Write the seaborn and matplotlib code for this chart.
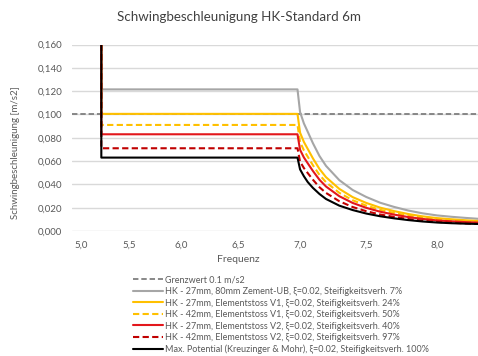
import numpy as np
import pandas as pd
import matplotlib
matplotlib.use("Agg")
import matplotlib.pyplot as plt
import seaborn as sns

sns.set_theme(style="white")
plt.rcParams["font.family"] = ["Lato", "DejaVu Sans"]

# Frequency grid [Hz]: start of the range (vertical drop), plateau end, then decay
freq = [5.22, 5.22, 6.98, 7.00, 7.03, 7.06, 7.10, 7.15, 7.20, 7.30, 7.40,
        7.50, 7.60, 7.70, 7.80, 7.90, 8.00, 8.10, 8.20, 8.30]

hk27_zement = [0.160, 0.1215, 0.1215, 0.1021, 0.0923, 0.0851, 0.0753, 0.0644, 0.0559,
               0.0437, 0.0352, 0.0292, 0.0243, 0.0207, 0.0176, 0.0152, 0.0134,
               0.0122, 0.0112, 0.0103]
hk27_v1 = [0.160, 0.1005, 0.1005, 0.0844, 0.0764, 0.0704, 0.0623, 0.0533, 0.0462,
           0.0362, 0.0291, 0.0241, 0.0201, 0.0171, 0.0146, 0.0126, 0.0111,
           0.0101, 0.0092, 0.0085]
hk42_v1 = [0.160, 0.091, 0.091, 0.0764, 0.0692, 0.0637, 0.0564, 0.0482, 0.0419,
           0.0328, 0.0264, 0.0218, 0.0182, 0.0155, 0.0132, 0.0114, 0.0100,
           0.0091, 0.0084, 0.0077]
hk27_v2 = [0.160, 0.083, 0.083, 0.0697, 0.0631, 0.0581, 0.0515, 0.0440, 0.0382,
           0.0299, 0.0241, 0.0199, 0.0166, 0.0141, 0.0120, 0.0104, 0.0091,
           0.0083, 0.0076, 0.0071]
hk42_v2 = [0.160, 0.071, 0.071, 0.0596, 0.0540, 0.0497, 0.0440, 0.0376, 0.0327,
           0.0256, 0.0206, 0.0170, 0.0142, 0.0121, 0.0103, 0.0089, 0.0078,
           0.0071, 0.0065, 0.0060]
max_potential = [0.160, 0.063, 0.063, 0.0529, 0.0470, 0.0420, 0.0370, 0.0318, 0.0275,
                 0.0218, 0.0180, 0.0150, 0.0127, 0.0109, 0.0094, 0.0082, 0.0073,
                 0.0067, 0.0063, 0.0060]

grenzwert = 0.1

labels = [
    "HK - 27mm, 80mm Zement-UB, ξ=0.02, Steifigkeitsverh. 7%",
    "HK - 27mm, Elementstoss V1, ξ=0.02, Steifigkeitsverh. 24%",
    "HK - 42mm, Elementstoss V1, ξ=0.02, Steifigkeitsverh. 50%",
    "HK - 27mm, Elementstoss V2, ξ=0.02, Steifigkeitsverh. 40%",
    "HK - 42mm, Elementstoss V2, ξ=0.02, Steifigkeitsverh. 97%",
    "Max. Potential (Kreuzinger & Mohr), ξ=0.02, Steifigkeitsverh. 100%",
]
series = [hk27_zement, hk27_v1, hk42_v1, hk27_v2, hk42_v2, max_potential]
colors = ["#A6A6A6", "#FFC000", "#FFC000", "#E3171C", "#C00000", "#000000"]
styles = ["-", "-", "--", "-", "--", "-"]

x_ticks = [5.0, 5.5, 6.0, 6.5, 7.0, 7.5, 8.0]
y_ticks = [0.0, 0.02, 0.04, 0.06, 0.08, 0.10, 0.12, 0.14, 0.16]

fig = plt.figure(figsize=(4.78, 3.56), dpi=100)
ax = fig.add_axes([0.151, 0.351, 0.849, 0.524])

dash = (0, (3, 1.6))
ax.axhline(grenzwert, color="#7F7F7F", lw=1.3, ls=dash,
           label="Grenzwert 0.1 m/s2", zorder=2)

for vals, lab, col, ls in zip(series, labels, colors, styles):
    df = pd.DataFrame({"Frequenz": freq, "a": vals})
    sns.lineplot(data=df, x="Frequenz", y="a", ax=ax, color=col, lw=1.5,
                 linestyle=ls if ls == "-" else dash,
                 estimator=None, sort=False, label=lab, zorder=3)

ax.set_xscale("function", functions=(lambda f: f ** 2,
                                     lambda s: np.sqrt(np.maximum(s, 0))))
ax.set_xlim(4.905, 8.275)
ax.set_ylim(0, 0.16)
ax.set_xticks(x_ticks)
ax.set_xticklabels([f"{t:.1f}".replace(".", ",") for t in x_ticks])
ax.set_yticks(y_ticks)
ax.set_yticklabels([f"{t:.3f}".replace(".", ",") for t in y_ticks])
ax.xaxis.set_minor_locator(matplotlib.ticker.NullLocator())
ax.tick_params(axis="both", colors="#595959", labelsize=7, length=0, pad=7)
ax.grid(axis="y", color="#D9D9D9", lw=1)
ax.grid(axis="x", visible=False)
for s in ax.spines.values():
    s.set_visible(False)
ax.set_axisbelow(True)

ax.set_xlabel("Frequenz", fontsize=7.5, color="#595959", labelpad=4)
ax.set_ylabel("Schwingbeschleunigung [m/s2]", fontsize=7, color="#595959")
ax.yaxis.set_label_coords(-0.128, 0.42)
ax.xaxis.set_label_coords(0.41, -0.13)

fig.suptitle("Schwingbeschleunigung HK-Standard 6m", x=0.5, y=0.968,
             fontsize=9.6, color="#404040")

ax.legend(loc="upper left", bbox_to_anchor=(0.278, 0.226),
          bbox_transform=fig.transFigure, frameon=False, fontsize=6.5,
          labelcolor="#595959", handlelength=3.3, handletextpad=0.3,
          labelspacing=0.28, borderpad=0, borderaxespad=0)

fig.savefig("out.png", dpi=100, facecolor="white")
